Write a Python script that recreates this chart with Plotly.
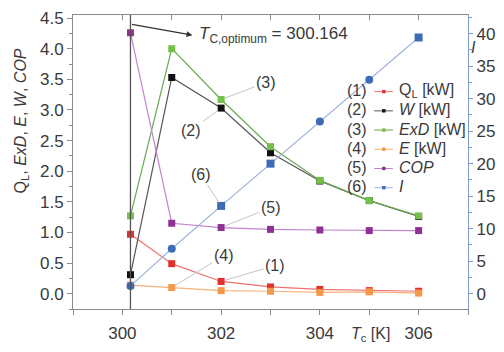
import plotly.graph_objects as go

# Condenser temperature [K]
t_c = [300.164, 301, 302, 303, 304, 305, 306]
t_opt = 300.164

# Series on the left axis
q_l = [0.97, 0.49, 0.20, 0.11, 0.07, 0.05, 0.04]
w = [0.31, 3.53, 3.03, 2.30, 1.84, 1.52, 1.26]
exd = [1.27, 4.00, 3.17, 2.40, 1.85, 1.52, 1.27]
e = [0.14, 0.10, 0.05, 0.04, 0.02, 0.03, 0.01]
cop = [4.26, 1.15, 1.08, 1.05, 1.04, 1.03, 1.03]
# Series on the right axis
i_val = [1.2, 6.9, 13.5, 20.0, 26.5, 32.9, 39.4]

names = ["Q<sub>L</sub> [kW]", "<i>W</i> [kW]", "<i>ExD</i> [kW]",
         "<i>E</i> [kW]", "<i>COP</i>", "<i>I</i>"]
tags = ["(1)", "(2)", "(3)", "(4)", "(5)", "(6)"]

FONT = "Liberation Sans, Arial, Helvetica, sans-serif"
TXT = "#3a3a3a"
AX = "#8a8a8a"
BLUE_AX = "#7f9acb"

# marker colour, line colour per series
styles = [
    ("#e0322d", "#ef7070"),
    ("#111111", "#555555"),
    ("#74c04b", "#6aa84f"),
    ("#f39a4a", "#f5b27a"),
    ("#8e3393", "#c084cc"),
    ("#3d6bb8", "#9fb2dd"),
]

fig = go.Figure()

for k, vals in enumerate([q_l, w, exd, e, cop]):
    mc, lc = styles[k]
    fig.add_trace(go.Scatter(
        x=t_c, y=vals, name=names[k], mode="lines+markers",
        line=dict(color=lc, width=1.2),
        marker=dict(symbol="square", size=7, color=mc),
        xaxis="x", yaxis="y", showlegend=False,
    ))

fig.add_trace(go.Scatter(
    x=t_c, y=i_val, name=names[5], mode="lines+markers",
    line=dict(color=styles[5][1], width=1.2),
    marker=dict(symbol=["circle", "circle", "square", "square", "circle", "circle", "square"],
                size=8, color=styles[5][0]),
    xaxis="x2", yaxis="y2", showlegend=False,
))

# Optimum temperature marker line
fig.add_shape(type="line", x0=t_opt, x1=t_opt, y0=0, y1=1,
              xref="x", yref="paper", line=dict(color="#555555", width=1.3))

xr = [299, 307]
yr = [-0.25, 4.55]
k_r = 9.42
yr2 = [yr[0] * k_r, yr[1] * k_r]

L, R, T, B = 73, 31, 9, 40
W_, H_ = 504, 352
PW, PH = W_ - L - R, H_ - T - B


def px(xp):
    return (xp - L) / PW


def py(yp):
    return (H_ - B - yp) / PH


fig.update_layout(
    width=W_, height=H_,
    margin=dict(l=L, r=R, t=T, b=B),
    paper_bgcolor="white", plot_bgcolor="white",
    font=dict(family=FONT, size=16, color=TXT),
    showlegend=False,
    xaxis=dict(range=xr, tick0=300, dtick=2, ticks="outside", ticklen=5,
               tickcolor=AX, showline=True, linecolor=AX, linewidth=1,
               showgrid=False, zeroline=False, ticklabelstandoff=4,
               minor=dict(dtick=1, ticks="outside", ticklen=5, tickcolor=AX),
               tickfont=dict(size=17, color=TXT)),
    xaxis2=dict(range=xr, overlaying="x", side="top", anchor="y2",
                tick0=300, dtick=1, ticks="inside", ticklen=5, tickcolor=AX,
                showticklabels=False, showline=True, linecolor=AX,
                showgrid=False, zeroline=False),
    yaxis=dict(range=yr, tick0=0, dtick=0.5, tickformat=".1f",
               ticks="outside", ticklen=5, tickcolor=AX,
               showline=True, linecolor=AX, linewidth=1,
               showgrid=False, zeroline=False,
               minor=dict(dtick=0.25, ticks="outside", ticklen=3, tickcolor=AX),
               tickfont=dict(size=17, color=TXT)),
    yaxis2=dict(range=yr2, overlaying="y", side="right", anchor="x2",
                tick0=0, dtick=5, ticks="outside", ticklen=4,
                tickcolor=BLUE_AX, showline=True, linecolor=BLUE_AX,
                linewidth=1.2, showgrid=False, zeroline=False,
                minor=dict(dtick=2.5, ticks="outside", ticklen=3, tickcolor=BLUE_AX),
                tickfont=dict(size=17, color=TXT)),
)

ann = []
# Axis titles
ann.append(dict(text="Q<sub>L</sub>, <i>ExD</i>, <i>E</i>, <i>W</i>, <i>COP</i>",
                x=px(21), y=py(118), xref="paper", yref="paper", textangle=-90,
                xanchor="center", yanchor="middle",
                showarrow=False, font=dict(size=16, color=TXT)))
ann.append(dict(text="<i>T</i><sub>c</sub> [K]", x=px(374), y=py(338),
                xref="paper", yref="paper", xanchor="center", yanchor="middle",
                showarrow=False, font=dict(size=16, color=TXT)))
ann.append(dict(text="<i>I</i>", x=px(479), y=py(43), xref="paper", yref="paper",
                xanchor="center", yanchor="middle",
                showarrow=False, font=dict(size=16, color=TXT)))

# Optimum callout
ann.append(dict(x=301.42, y=4.22, ax=t_opt, ay=4.40, axref="x", ayref="y",
                xref="x", yref="y", text="", showarrow=True, arrowhead=2,
                arrowsize=1, arrowwidth=1.2, arrowcolor="#333333"))
ann.append(dict(x=301.52, y=4.22, xref="x", yref="y", xanchor="left",
                yanchor="middle",
                text="<i>T</i><sub>C,optimum</sub> = 300.164", showarrow=False,
                font=dict(size=17, color=TXT)))

# Numbered leader labels pointing at the curves
leaders = [
    ("(3)", t_c[2], exd[2], 45, -17, "y"),
    ("(2)", t_c[2], w[2], -30, 22, "y"),
    ("(6)", t_c[2], i_val[2], -20, -31, "y2"),
    ("(5)", t_c[2], cop[2], 50, -20, "y"),
    ("(4)", t_c[1], e[1], 52, -32, "y"),
    ("(1)", t_c[2], q_l[2], 54, -16, "y"),
]
for txt, xv, yv, dx, dy, yref in leaders:
    ann.append(dict(text=txt, x=xv, y=yv, xref="x" if yref == "y" else "x2",
                    yref=yref, ax=dx, ay=dy, showarrow=True, arrowhead=0,
                    arrowwidth=1, arrowcolor="#c4c4c4", standoff=4,
                    font=dict(size=16, color=TXT)))

# Key: number, short line with a dot, series name
shapes = []
for k in range(6):
    yc = 87 + 19.8 * k
    mc, lc = styles[k]
    ann.append(dict(text=tags[k], x=px(373), y=py(yc), xref="paper", yref="paper",
                    xanchor="right", yanchor="middle", showarrow=False,
                    font=dict(size=16, color=TXT)))
    ann.append(dict(text=names[k], x=px(401), y=py(yc), xref="paper", yref="paper",
                    xanchor="left", yanchor="middle", showarrow=False,
                    font=dict(size=16, color=TXT)))
    shapes.append(dict(type="line", xref="paper", yref="paper",
                       x0=px(378), x1=px(397), y0=py(yc + 1), y1=py(yc + 1),
                       line=dict(color=lc, width=1)))
    shapes.append(dict(type="rect", xref="paper", yref="paper",
                       x0=px(386), x1=px(389.5), y0=py(yc - 0.8), y1=py(yc + 2.7),
                       line=dict(width=0), fillcolor=mc))

for s in shapes:
    fig.add_shape(**s)
fig.update_layout(annotations=ann)
fig.write_html("out.html")
